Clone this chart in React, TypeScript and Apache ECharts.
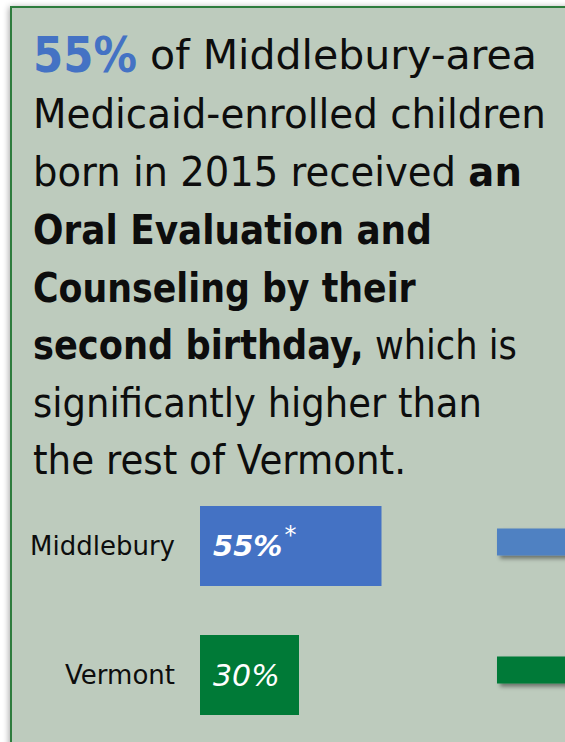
import React, { useEffect, useRef } from "react";
import * as echarts from "echarts";

// ---- data ----
const categories = ["Middlebury", "Vermont"];
const rates = [55, 30];
const significant = [true, false];
const barColors = ["#4472c4", "#007a37"];
// partially visible bars of a neighbouring chart (cut off at the right edge)
const offscreenValues = [100, 100];
const offscreenColors = ["#4f81c2", "#007a37"];

// headline text, one entry per line: each line is a list of [style, text] segments
const headlineLines: [string, string][][] = [
  [["p", "55%"], ["n", " of Middlebury-area"]],
  [["n", "Medicaid-enrolled children"]],
  [["n", "born in 2015 received "], ["b", "an"]],
  [["b", "Oral Evaluation and"]],
  [["b", "Counseling by their"]],
  [["b", "second birthday,"], ["n", " which is"]],
  [["n", "significantly higher than"]],
  [["n", "the rest of Vermont."]],
];

// ---- layout ----
const FONT = '"DejaVu Sans", sans-serif';
// right edge of each segment group (a line may be split into pieces with their own fit)
const lineBreaks: number[][] = [
  [33, 137, 537],
  [33, 546],
  [33, 522],
  [33, 432],
  [33, 416],
  [33, 517],
  [33, 482],
  [33, 406],
];
const lineY = [55, 114, 172, 230, 288, 345, 403, 460];
const segStyles: Record<string, { fontSize: number; fontWeight: string; fill: string }> = {
  p: { fontSize: 50, fontWeight: "bold", fill: "#4472c4" },
  n: { fontSize: 40, fontWeight: "normal", fill: "#0d0d0d" },
  b: { fontSize: 40, fontWeight: "bold", fill: "#0d0d0d" },
};

function measure(segs: [string, string][]) {
  const c = document.createElement("canvas").getContext("2d")!;
  let w = 0;
  for (const [s, t] of segs) {
    const st = segStyles[s];
    c.font = `${st.fontWeight} ${st.fontSize}px ${FONT}`;
    w += c.measureText(t).width;
  }
  return w;
}

export default function App() {
  const ref = useRef<HTMLDivElement>(null);
  useEffect(() => {
    const chart = echarts.init(ref.current!, null, { renderer: "svg" });
    const rich: any = {};
    Object.keys(segStyles).forEach((k) => {
      rich[k] = { ...segStyles[k], fontFamily: FONT };
    });
    const textEls: any[] = [];
    headlineLines.forEach((segs, i) => {
      const br = lineBreaks[i];
      const pieces = br.length - 1;
      // split segments into pieces: if multiple pieces, one segment per piece
      const groups: [string, string][][] =
        pieces === 1 ? [segs] : segs.map((s) => [s]);
      groups.forEach((g, k) => {
        const w = measure(g);
        const sx = (br[k + 1] - br[k]) / w;
        textEls.push({
          type: "text",
          x: br[k],
          y: lineY[i],
          scaleX: sx,
          z: 5,
          style: {
            text: g.map(([s, t]) => `{${s}|${t}}`).join(""),
            rich,
            fontFamily: FONT,
            fontSize: 40,
            align: "left",
            verticalAlign: "middle",
          },
        });
      });
    });

    chart.setOption({
      animation: false,
      backgroundColor: "#ffffff",
      graphic: {
        elements: [
          {
            type: "rect",
            z: -1,
            shape: { x: 11, y: 7, width: 640, height: 820 },
            style: {
              fill: "#bdcbbd",
              stroke: "#2e7b3c",
              lineWidth: 2,
              shadowBlur: 6,
              shadowColor: "rgba(0,0,0,0.35)",
              shadowOffsetX: -1,
              shadowOffsetY: 1,
            },
          },
          ...textEls,
        ],
      },
      grid: [
        { left: 200, top: 481.5, width: 330, height: 258 },
        { left: 497, top: 478, width: 300, height: 256 },
      ],
      xAxis: [
        { gridIndex: 0, type: "value", min: 0, max: 100, show: false },
        { gridIndex: 1, type: "value", min: 0, max: 100, show: false },
      ],
      yAxis: [
        {
          gridIndex: 0,
          type: "category",
          data: categories,
          inverse: true,
          axisLine: { show: false },
          axisTick: { show: false },
          splitLine: { show: false },
          axisLabel: {
            margin: 25,
            color: "#0d0d0d",
            fontSize: 26,
            fontFamily: FONT,
          },
        },
        {
          gridIndex: 1,
          type: "category",
          data: categories,
          inverse: true,
          show: false,
        },
      ],
      series: [
        {
          type: "bar",
          xAxisIndex: 0,
          yAxisIndex: 0,
          barWidth: 80,
          data: rates.map((v, i) => ({ value: v, itemStyle: { color: barColors[i] } })),
          label: {
            show: true,
            position: "insideLeft",
            distance: 13,
            formatter: (p: any) =>
              significant[p.dataIndex] ? `{vb|${p.value}%}{s|*}` : `{v|${p.value}%}`,
            rich: {
              vb: {
                color: "#ffffff",
                fontSize: 29,
                fontStyle: "italic",
                fontWeight: "bold",
                fontFamily: FONT,
              },
              v: {
                color: "#ffffff",
                fontSize: 30,
                fontStyle: "italic",
                fontWeight: "normal",
                fontFamily: FONT,
              },
              s: {
                color: "#ffffff",
                fontSize: 24,
                fontFamily: FONT,
                verticalAlign: "top",
                padding: [0, 0, 22, 2],
              },
            },
          },
        },
        {
          type: "bar",
          xAxisIndex: 1,
          yAxisIndex: 1,
          barWidth: 27,
          silent: true,
          data: offscreenValues.map((v, i) => ({
            value: v,
            itemStyle: {
              color: offscreenColors[i],
              shadowBlur: 4,
              shadowColor: "rgba(0,0,0,0.45)",
              shadowOffsetX: 3,
              shadowOffsetY: 3,
            },
          })),
        },
      ],
    });
    return () => chart.dispose();
  }, []);
  return (
    <div
      ref={ref}
      style={{ position: "fixed", left: 0, top: 0, width: 565, height: 742 }}
    />
  );
}
